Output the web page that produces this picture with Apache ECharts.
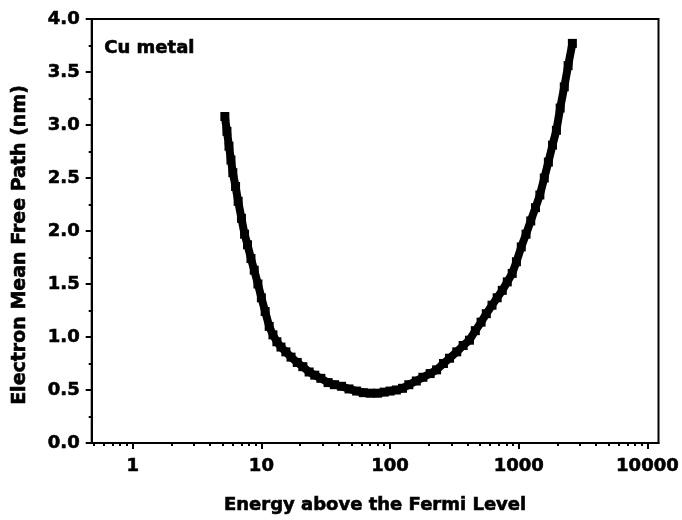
<!DOCTYPE html>
<html>
<head>
<meta charset="utf-8">
<style>html,body{margin:0;padding:0;background:#fff;}#chart{width:682px;height:520px;}</style>
<script src="https://cdn.jsdelivr.net/npm/echarts@6/dist/echarts.min.js"></script>
</head>
<body>
<div id="chart"></div>
<script>
// Energy above the Fermi level (eV)
const energy = [5.2,5.4,5.6,5.8,6.0,6.3,6.6,7.0,7.4,7.8,8.3,8.8,9.4,10,10.7,11.5,12.3,13.2,14.2,15.5,17,19,21,23.5,26,29,33,37,42,48,55,62,70,80,90,100,112,125,140,160,180,205,230,260,290,330,370,414,460,510,560,620,680,745,815,890,960,1047,1140,1240,1350,1460,1580,1700,1830,1963,2100,2260,2420,2612];
// Electron mean free path (nm)
const mfp = [3.08,2.94,2.80,2.67,2.55,2.42,2.28,2.12,1.97,1.87,1.74,1.63,1.50,1.37,1.24,1.10,1.02,0.955,0.905,0.86,0.81,0.76,0.72,0.67,0.64,0.61,0.57,0.55,0.535,0.51,0.49,0.475,0.47,0.47,0.48,0.49,0.50,0.516,0.55,0.585,0.62,0.655,0.69,0.75,0.80,0.86,0.92,0.97,1.06,1.14,1.22,1.30,1.37,1.44,1.52,1.60,1.71,1.85,1.97,2.095,2.22,2.34,2.50,2.65,2.81,2.95,3.16,3.36,3.56,3.77];
const xMajorTicks = [1,10,100,1000,10000];
const xMinorTicks = [0.5,0.6,0.7,0.8,0.9,2,3,4,5,6,7,8,9,20,30,40,50,60,70,80,90,200,300,400,500,600,700,800,900,2000,3000,4000,5000,6000,7000,8000,9000];
const xRange = [0.48, 12200];
const yRange = [0, 4];
const xTitle = 'Energy above the Fermi Level';
const yTitle = 'Electron Mean Free Path (nm)';
const annotation = 'Cu metal';

const font = 'DejaVu Sans';
const heavy = {textBorderColor: '#000', textBorderWidth: 0.6};
const chart = echarts.init(document.getElementById('chart'), null, {renderer: 'canvas'});
const points = energy.map((e, i) => [e, mfp[i]]);
chart.setOption({
  animation: false,
  backgroundColor: '#fff',
  grid: {left: 91.7, right: 22.7, top: 19, bottom: 77, show: true, borderColor: '#000', borderWidth: 2, backgroundColor: 'transparent'},
  graphic: [{type: 'text', left: 104, top: 39, style: {text: annotation, font: 'bold 18px "DejaVu Sans"', fill: '#000', stroke: '#000', lineWidth: 0.6}}],
  xAxis: [{
    type: 'log', logBase: 10, min: xRange[0], max: xRange[1],
    name: xTitle, nameLocation: 'middle', nameGap: 53,
    nameTextStyle: Object.assign({fontFamily: font, fontWeight: 'bold', fontSize: 18, color: '#000'}, heavy),
    axisLine: {show: true, lineStyle: {color: '#000', width: 2}},
    axisTick: {show: true, inside: false, length: 6, lineStyle: {color: '#000', width: 2}, customValues: xMajorTicks},
    axisLabel: Object.assign({show: true, margin: 14, fontFamily: font, fontWeight: 'bold', fontSize: 18, color: '#000', customValues: xMajorTicks, formatter: v => String(Math.round(v))}, heavy),
    splitLine: {show: false}, minorTick: {show: false}, minorSplitLine: {show: false}
  }, {
    type: 'log', logBase: 10, min: xRange[0], max: xRange[1], position: 'bottom', offset: 0,
    axisLine: {show: false},
    axisTick: {show: true, inside: false, length: 3, lineStyle: {color: '#000', width: 2}, customValues: xMinorTicks},
    axisLabel: {show: false},
    splitLine: {show: false}
  }],
  yAxis: {
    type: 'value', min: yRange[0], max: yRange[1], interval: 0.5,
    name: yTitle, nameLocation: 'middle', nameGap: 62,
    nameTextStyle: Object.assign({fontFamily: font, fontWeight: 'bold', fontSize: 19, color: '#000', padding: [0, 28, 0, 0]}, heavy),
    axisLine: {show: true, lineStyle: {color: '#000', width: 2}},
    axisTick: {show: true, inside: false, length: 6, lineStyle: {color: '#000', width: 2}},
    minorTick: {show: true, splitNumber: 2, length: 3, lineStyle: {color: '#000', width: 2}},
    axisLabel: Object.assign({margin: 12, fontFamily: font, fontWeight: 'bold', fontSize: 18, color: '#000', formatter: v => v.toFixed(1)}, heavy),
    splitLine: {show: false}
  },
  series: [{
    type: 'line', xAxisIndex: 0, data: points,
    symbol: 'rect', symbolSize: 9, showSymbol: true,
    itemStyle: {color: '#000'},
    lineStyle: {color: '#000', width: 8},
    smooth: false
  }]
});
</script>
</body>
</html>
